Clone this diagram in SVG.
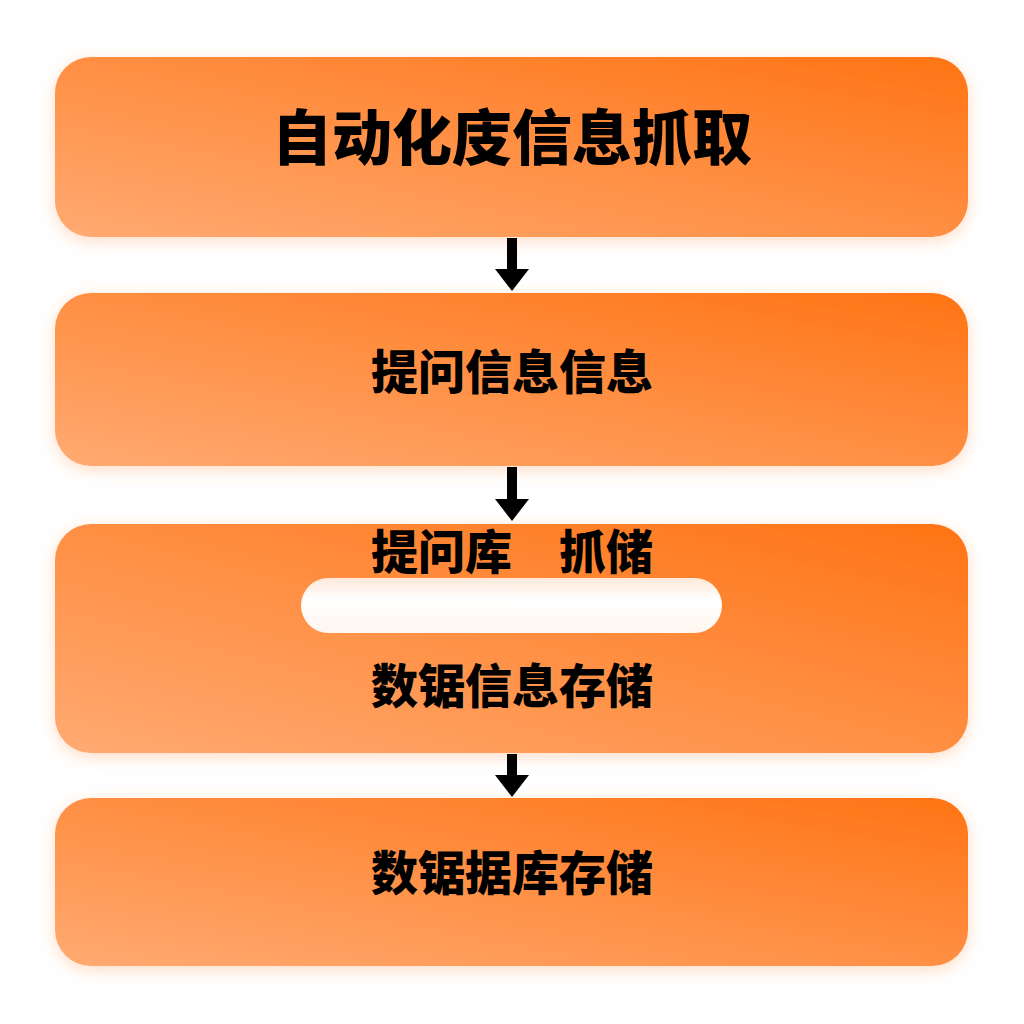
<svg xmlns="http://www.w3.org/2000/svg" width="1024" height="1024" viewBox="0 0 1024 1024">
<defs>
<linearGradient id="g" x1="1" y1="0" x2="0" y2="1">
<stop offset="0" stop-color="#FF7414"/>
<stop offset="1" stop-color="#FFAA72"/>
</linearGradient>
<linearGradient id="pill" x1="0" y1="0" x2="0" y2="1">
<stop offset="0" stop-color="#FFE9DA"/>
<stop offset="0.4" stop-color="#FFFFFF"/>
<stop offset="1" stop-color="#FFF6EF"/>
</linearGradient>
<filter id="sh" x="-10%" y="-30%" width="120%" height="160%">
<feDropShadow dx="0" dy="4" stdDeviation="8" flood-color="#FF8A3C" flood-opacity="0.3"/>
</filter>
<marker id="ah" markerWidth="2.2" markerHeight="3.4" refX="0" refY="1.7" orient="auto" markerUnits="strokeWidth">
<path d="M0,0 L2.2,1.7 L0,3.4 Z" fill="#000"/>
</marker>
</defs>
<style>
.box{fill:url(#g);filter:url(#sh)}
.t{font-family:"Noto Sans CJK SC","Noto Sans",sans-serif;font-weight:900;fill:#000;text-anchor:middle;dominant-baseline:central}
.conn{stroke:#000;stroke-width:10;fill:none}
</style>
<rect width="1024" height="1024" fill="#FFFFFF"/>
<g id="node1"><rect class="box" x="55" y="57" width="913" height="180" rx="36"/>
<text class="t" x="512" y="133" font-size="60">自动化庋信息抓取</text></g>
<g id="node2"><rect class="box" x="55" y="293" width="913" height="173" rx="36"/>
<text class="t" x="512" y="368" font-size="47">提问信息信息</text></g>
<g id="node3"><rect class="box" x="55" y="524" width="913" height="229" rx="36"/>
<rect x="301" y="578" width="421" height="55" rx="27.5" fill="url(#pill)"/>
<text class="t" x="512" y="548" font-size="47">提问库　抓储</text>
<text class="t" x="512" y="682" font-size="47">数锯信息存储</text></g>
<g id="node4"><rect class="box" x="55" y="798" width="913" height="168" rx="36"/>
<text class="t" x="512" y="869" font-size="47">数锯据库存储</text></g>
<g id="connectors">
<line class="conn" x1="512" y1="238" x2="512" y2="269" marker-end="url(#ah)"/>
<line class="conn" x1="512" y1="467" x2="512" y2="499" marker-end="url(#ah)"/>
<line class="conn" x1="512" y1="754" x2="512" y2="775" marker-end="url(#ah)"/>
</g>
</svg>
